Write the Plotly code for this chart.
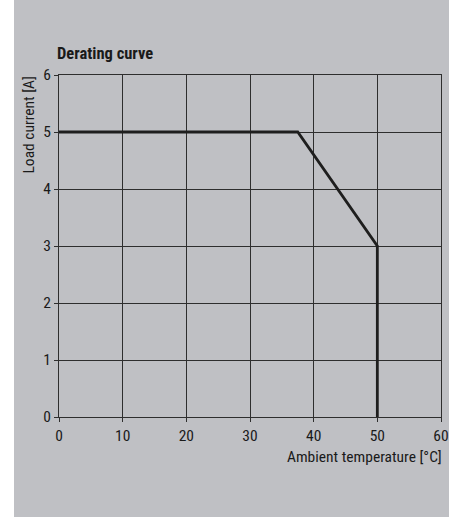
import plotly.graph_objects as go

# Data
temperature = [0, 37.5, 50, 50]
load_current = [5, 5, 3, 0]
x_ticks = [0, 10, 20, 30, 40, 50, 60]
y_ticks = [0, 1, 2, 3, 4, 5, 6]

FONT = "Roboto Condensed, DejaVu Sans Condensed, sans-serif"
BG = "#bfc0c4"
INK = "#1e1e1e"
GRID = "#2e2e2e"
TXT = "#1a1a1a"
FS = 15.5

W, H = 449, 517
L, R, T, B = 59, 8, 75, 100
pw = W - L - R
ph = H - T - B

fig = go.Figure()
fig.add_trace(go.Scatter(
    x=temperature, y=load_current, mode="lines",
    line=dict(color=INK, width=2.8), hoverinfo="skip", showlegend=False,
))

axis_common = dict(
    showgrid=True, gridcolor=GRID, gridwidth=1,
    showline=True, linecolor=GRID, linewidth=1, mirror=True,
    ticks="outside", ticklen=4, tickcolor=GRID, tickwidth=1,
    zeroline=False, automargin=False,
    tickfont=dict(family=FONT, size=FS, color=TXT),
)

fig.update_layout(
    width=W, height=H,
    margin=dict(l=L, r=R, t=T, b=B),
    paper_bgcolor=BG, plot_bgcolor=BG,
    font=dict(family=FONT, size=FS, color=TXT),
    title=dict(text="<b>Derating curve</b>", x=57 / W, xanchor="left",
               xref="container", y=1 - 53 / H, yanchor="middle", yref="container",
               font=dict(family=FONT, size=16.5, color=TXT)),
    xaxis=dict(range=[0, 60], tickvals=x_ticks, **axis_common),
    yaxis=dict(range=[0, 6], tickvals=y_ticks, ticklabelstandoff=0, **axis_common),
    shapes=[dict(type="rect", xref="paper", yref="paper",
                 x0=-L / pw - 0.05, x1=-(L - 14) / pw, y0=-B / ph - 0.1, y1=1 + T / ph + 0.1,
                 fillcolor="white", line=dict(width=0), layer="below")],
    annotations=[
        dict(text="Ambient temperature [°C]", xref="paper", yref="paper",
             x=1 + 3 / pw, y=-(457 - (H - B)) / ph, xanchor="right", yanchor="middle",
             showarrow=False, font=dict(family=FONT, size=FS, color=TXT)),
        dict(text="Load current [A]", xref="paper", yref="paper",
             x=-(L - 28) / pw, y=1, xanchor="center", yanchor="top", textangle=-90,
             showarrow=False, font=dict(family=FONT, size=FS, color=TXT)),
    ],
)

fig.write_html("out.html", config={"displayModeBar": False},
               post_script="document.body.style.margin='0';")
